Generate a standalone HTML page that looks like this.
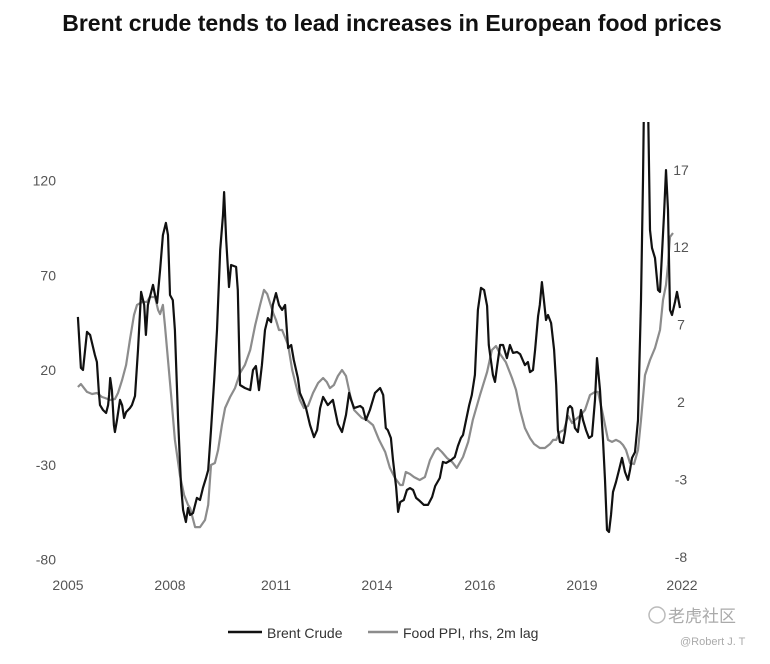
<!DOCTYPE html>
<html><head><meta charset="utf-8"><style>
body{margin:0;background:#fff;}
svg text{font-family:"Liberation Sans","Noto Sans CJK SC",sans-serif;}
</style></head><body>
<svg width="770" height="659" viewBox="0 0 770 659">
<defs><clipPath id="plotclip"><rect x="60" y="122" width="640" height="440"/></clipPath></defs>
<text x="392" y="31" text-anchor="middle" font-size="23" font-weight="bold" fill="#111">Brent crude tends to lead increases in European food prices</text>
<g id="axes"></g>
<g id="series" clip-path="url(#plotclip)"></g>
<g>
<line x1="228" y1="632" x2="262" y2="632" stroke="#111" stroke-width="2.4"/>
<text x="267" y="638" font-size="14" fill="#333">Brent Crude</text>
<line x1="368" y1="632" x2="398" y2="632" stroke="#8c8c8c" stroke-width="2.4"/>
<text x="403" y="638" font-size="14" fill="#333">Food PPI, rhs, 2m lag</text>
</g>
<text x="668" y="622" font-size="17" fill="#aaa">老虎社区</text>
<circle cx="657" cy="615" r="8" fill="none" stroke="#bbb" stroke-width="1.5"/>
<text x="680" y="645" font-size="11" fill="#aaa">@Robert J. T</text>
</svg>
<script>
const xTickYears=[2005,2008,2011,2014,2016,2019,2022];
const xTickPx=[68,170,276,377,480,582,682];
const leftTicks=[120,70,20,-30,-80];
const rightTicks=[17,12,7,2,-3,-8];
const brentDates=[2005.29,2005.38,2005.44,2005.56,2005.65,2005.79,2005.85,2005.91,2005.94,2006.03,2006.12,2006.18,2006.21,2006.24,2006.29,2006.35,2006.38,2006.44,2006.53,2006.59,2006.65,2006.71,2006.82,2006.88,2006.97,2007.06,2007.15,2007.24,2007.29,2007.35,2007.41,2007.50,2007.56,2007.62,2007.71,2007.79,2007.88,2007.94,2008.00,2008.08,2008.14,2008.23,2008.31,2008.37,2008.45,2008.51,2008.57,2008.65,2008.71,2008.76,2008.85,2008.93,2009.02,2009.08,2009.16,2009.25,2009.33,2009.42,2009.50,2009.53,2009.59,2009.67,2009.73,2009.87,2009.92,2009.98,2010.12,2010.27,2010.35,2010.43,2010.52,2010.60,2010.69,2010.77,2010.86,2010.91,2011.00,2011.09,2011.18,2011.27,2011.36,2011.45,2011.53,2011.65,2011.71,2011.80,2011.89,2012.01,2012.13,2012.22,2012.31,2012.40,2012.54,2012.69,2012.84,2012.96,2013.08,2013.17,2013.23,2013.32,2013.50,2013.58,2013.67,2013.79,2013.94,2014.06,2014.12,2014.17,2014.21,2014.27,2014.31,2014.37,2014.41,2014.45,2014.52,2014.58,2014.64,2014.70,2014.76,2014.83,2014.91,2014.99,2015.07,2015.13,2015.22,2015.28,2015.34,2015.44,2015.51,2015.57,2015.63,2015.67,2015.73,2015.79,2015.84,2015.90,2015.96,2016.03,2016.12,2016.21,2016.26,2016.38,2016.44,2016.50,2016.59,2016.68,2016.79,2016.88,2016.97,2017.09,2017.18,2017.32,2017.41,2017.47,2017.56,2017.62,2017.71,2017.76,2017.82,2017.88,2017.94,2018.00,2018.09,2018.18,2018.24,2018.29,2018.35,2018.44,2018.50,2018.59,2018.65,2018.71,2018.79,2018.88,2018.97,2019.03,2019.12,2019.21,2019.30,2019.39,2019.45,2019.54,2019.63,2019.69,2019.75,2019.81,2019.87,2019.93,2020.02,2020.11,2020.20,2020.29,2020.38,2020.44,2020.50,2020.59,2020.68,2020.77,2020.83,2020.86,2020.98,2021.04,2021.10,2021.19,2021.28,2021.34,2021.46,2021.52,2021.58,2021.64,2021.70,2021.79,2021.85,2021.94];
const brentValues=[48.0,21.1,20.0,40.1,38.5,27.9,24.2,7.9,1.5,-1.1,-2.7,1.5,6.8,15.8,9.4,-9.0,-12.7,-6.4,4.2,1.5,-5.3,-2.2,-0.1,1.5,6.3,30.6,61.2,54.3,38.5,54.3,58.5,64.9,59.6,55.4,72.8,91.2,97.6,91.2,59.6,56.9,41.1,-6.4,-40.7,-53.9,-60.2,-52.8,-56.5,-55.5,-51.2,-47.5,-48.6,-42.3,-37.0,-32.8,-11.7,14.7,41.1,83.3,101.8,113.9,88.6,63.8,75.4,74.4,62.2,12.1,10.5,9.4,20.0,22.1,9.4,22.6,41.1,47.4,45.3,54.3,60.6,54.3,51.7,54.3,31.6,33.2,25.3,15.8,7.9,4.2,-0.1,-9.0,-15.4,-11.7,-0.1,5.8,1.5,4.2,-8.5,-12.7,-3.7,7.9,4.2,-0.1,1.0,-0.1,-6.4,-1.1,7.9,10.5,6.8,-10.6,-11.7,-15.9,-27.5,-41.7,-54.9,-49.7,-48.6,-43.3,-42.3,-43.3,-47.5,-49.1,-51.2,-51.2,-47.0,-41.2,-37.0,-28.5,-29.1,-27.5,-25.9,-20.1,-15.9,-14.3,-6.4,1.5,6.8,17.4,51.7,63.3,62.2,53.8,33.2,17.4,13.7,21.6,33.2,33.2,26.3,33.2,29.0,29.5,28.4,22.6,24.2,18.9,20.0,30.6,48.5,54.3,66.4,56.9,46.4,49.0,44.8,30.6,12.1,-11.7,-18.0,-18.5,-12.7,-0.1,1.0,-0.1,-10.6,-12.7,-1.1,-6.4,-11.7,-15.9,-14.8,4.2,26.3,9.4,-16.9,-38.0,-64.4,-65.5,-56.5,-44.4,-39.1,-32.8,-26.4,-33.8,-38.0,-32.8,-26.4,-23.3,-6.4,56.9,120.3,162.5,162.5,93.9,84.4,79.1,62.2,61.2,101.8,125.5,104.4,51.7,49.0,55.9,61.2,52.7];
const foodDates=[2005.29,2005.38,2005.47,2005.56,2005.71,2005.85,2006.00,2006.09,2006.24,2006.38,2006.47,2006.59,2006.71,2006.82,2006.94,2007.03,2007.18,2007.32,2007.41,2007.56,2007.65,2007.71,2007.79,2007.85,2007.94,2008.03,2008.14,2008.28,2008.40,2008.51,2008.57,2008.71,2008.85,2008.99,2009.08,2009.16,2009.27,2009.36,2009.47,2009.56,2009.70,2009.84,2009.98,2010.12,2010.27,2010.41,2010.55,2010.66,2010.75,2010.83,2010.92,2011.00,2011.09,2011.18,2011.36,2011.48,2011.59,2011.71,2011.83,2011.95,2012.10,2012.25,2012.40,2012.51,2012.60,2012.72,2012.84,2012.96,2013.08,2013.20,2013.32,2013.44,2013.55,2013.70,2013.88,2014.04,2014.16,2014.25,2014.35,2014.45,2014.50,2014.56,2014.64,2014.72,2014.83,2014.93,2015.03,2015.13,2015.18,2015.26,2015.36,2015.46,2015.55,2015.67,2015.77,2015.86,2016.00,2016.21,2016.35,2016.47,2016.59,2016.76,2016.94,2017.06,2017.18,2017.32,2017.47,2017.59,2017.76,2017.91,2018.06,2018.15,2018.24,2018.35,2018.47,2018.59,2018.71,2018.79,2018.94,2019.09,2019.24,2019.39,2019.48,2019.63,2019.78,2019.90,2020.02,2020.14,2020.23,2020.32,2020.44,2020.56,2020.68,2020.77,2020.89,2021.04,2021.19,2021.34,2021.43,2021.52,2021.58,2021.64,2021.73];
const foodValues=[2.97,3.16,2.90,2.65,2.52,2.58,2.32,2.26,2.13,2.19,2.58,3.42,4.39,6.01,7.62,8.27,8.46,8.46,8.78,8.78,7.94,7.68,8.27,6.97,4.71,2.45,-0.45,-2.72,-4.01,-4.65,-4.85,-6.08,-6.08,-5.62,-4.65,-2.07,-1.94,-1.10,0.51,1.61,2.32,2.90,3.87,4.39,5.36,6.97,8.27,9.24,8.98,8.40,7.75,7.30,6.65,6.65,5.68,4.07,3.10,2.13,1.61,1.74,2.58,3.23,3.55,3.29,2.90,3.10,3.68,4.07,3.68,2.45,1.48,1.22,0.97,0.84,0.51,-0.45,-1.23,-2.26,-2.91,-3.36,-3.36,-2.52,-2.65,-2.85,-3.04,-2.85,-1.75,-1.10,-0.97,-1.23,-1.62,-1.88,-2.26,-1.55,-0.58,0.84,2.45,3.94,5.36,5.62,5.10,4.58,3.55,2.78,1.48,0.32,-0.33,-0.71,-0.97,-0.97,-0.71,-0.45,-0.45,0.06,0.19,1.10,0.64,0.84,1.10,1.48,2.45,2.65,2.65,1.16,-0.45,-0.58,-0.45,-0.58,-0.78,-1.10,-1.94,-2.01,-1.10,0.84,3.74,4.71,5.49,6.65,8.59,9.56,10.85,12.66,12.92];

function xScale(yr){
  for(let i=0;i<xTickYears.length-1;i++){
    if(yr<=xTickYears[i+1]||i===xTickYears.length-2){
      const t=(yr-xTickYears[i])/(xTickYears[i+1]-xTickYears[i]);
      return xTickPx[i]+t*(xTickPx[i+1]-xTickPx[i]);
    }
  }
}
function yLeft(v){return 370-(v-20)*1.895;}
function yRight(v){return 402-(v-2)*15.48;}
const NS='http://www.w3.org/2000/svg';
const axes=document.getElementById('axes');
const ser=document.getElementById('series');
function txt(x,y,s,anchor){const t=document.createElementNS(NS,'text');t.setAttribute('x',x);t.setAttribute('y',y);t.setAttribute('font-size','14');t.setAttribute('fill','#555');t.setAttribute('text-anchor',anchor);t.textContent=s;axes.appendChild(t);return t;}
leftTicks.forEach(v=>{const t=txt(56,yLeft(v)+5,String(v),'end');

});
rightTicks.forEach(v=>{const t=txt(681,yRight(v)+5,String(v),'middle');

});
xTickYears.forEach(y=>{const t=txt(xScale(y),590,String(y),'middle');

});
function line(dates,vals,ys,color,name){
  const d=dates.map((yr,i)=>(i?'L':'M')+xScale(yr).toFixed(1)+' '+ys(vals[i]).toFixed(1)).join(' ');
  const p=document.createElementNS(NS,'path');p.setAttribute('d',d);p.setAttribute('fill','none');p.setAttribute('stroke',color);p.setAttribute('stroke-width','2.2');p.setAttribute('stroke-linejoin','round');
  
  
  ser.appendChild(p);
}
line(foodDates,foodValues,yRight,'#8c8c8c','food-ppi-line');
line(brentDates,brentValues,yLeft,'#111','brent-crude-line');
</script>
</body></html>
